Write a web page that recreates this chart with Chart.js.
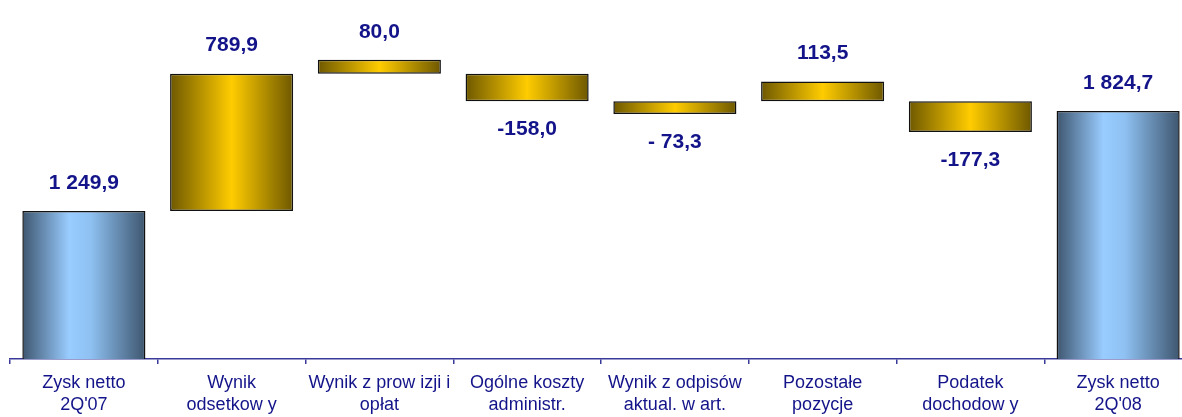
<!DOCTYPE html>
<html>
<head>
<meta charset="utf-8">
<script src="https://cdn.jsdelivr.net/npm/chart.js@4.4.1/dist/chart.umd.min.js"></script>
<style>
  html, body { margin: 0; padding: 0; background: #fff; overflow: hidden; }
  #wrap { width: 1200px; height: 417px; }
</style>
</head>
<body>
<div id="wrap"><canvas id="waterfall" width="1200" height="417"></canvas></div>
<script>
// categories and values (mln zł)
const categories = [
    ['Zysk netto', "2Q'07"],
    ['Wynik', 'odsetkow y'],
    ['Wynik z prow izji i', 'opłat'],
    ['Ogólne koszty', 'administr.'],
    ['Wynik z odpisów', 'aktual. w art.'],
    ['Pozostałe', 'pozycje'],
    ['Podatek', 'dochodow y'],
    ['Zysk netto', "2Q'08"]
];
const values = [1249.9, 789.9, 80.0, -158.0, -73.3, 113.5, -177.3, 1824.7];
// where each bar starts, as drawn in the original (not a strict running total)
const barStarts = [0, 1249.9, 2039.8, 2039.8, 1881.8, 1881.8, 1881.8, 0];
const isTotal = [true, false, false, false, false, false, false, true];
const valueLabels = ['1 249,9', '789,9', '80,0', '-158,0', '- 73,3', '113,5', '-177,3', '1 824,7'];

const axisMin = 400;
const axisMax = 2400;
const navy = '#14148a';
const barShare = 0.833;

const floating = values.map((v, i) => [barStarts[i], barStarts[i] + v]);

function barGradient(context) {
    const chart = context.chart;
    const i = context.dataIndex;
    const fallback = isTotal[i] ? '#99ccff' : '#ffcc00';
    if (!chart.chartArea || !chart.scales.x) return fallback;
    const xs = chart.scales.x;
    const cx = xs.getPixelForValue(i);
    const w = xs.width / categories.length * barShare;
    const g = chart.ctx.createLinearGradient(cx - w / 2, 0, cx + w / 2, 0);
    if (isTotal[i]) {
        g.addColorStop(0, '#3e566f');
        g.addColorStop(0.38, '#99ccff');
        g.addColorStop(0.55, '#8fc2f3');
        g.addColorStop(1, '#3e566f');
    } else {
        g.addColorStop(0, '#6e5800');
        g.addColorStop(0.5, '#ffcc00');
        g.addColorStop(1, '#6e5800');
    }
    return g;
}

// value labels above rising bars, below falling ones
const valueLabelPlugin = {
    id: 'valueLabels',
    afterDatasetsDraw(chart) {
        const ctx = chart.ctx;
        const meta = chart.getDatasetMeta(0);
        ctx.save();
        ctx.font = 'bold 21px "Liberation Sans", Arial, sans-serif';
        ctx.fillStyle = navy;
        ctx.textAlign = 'center';
        ctx.textBaseline = 'middle';
        meta.data.forEach((bar, i) => {
            const top = Math.min(bar.y, bar.base);
            const bottom = Math.max(bar.y, bar.base);
            const y = (isTotal[i] || values[i] >= 0) ? top - 28 : bottom + 28;
            ctx.fillText(valueLabels[i], bar.x, y);
        });
        ctx.restore();
    }
};

new Chart(document.getElementById('waterfall'), {
    type: 'bar',
    data: {
        labels: categories,
        datasets: [{
            data: floating,
            backgroundColor: barGradient,
            borderColor: '#111111',
            borderWidth: 1.5,
            borderSkipped: false,
            barPercentage: barShare,
            categoryPercentage: 1
        }]
    },
    options: {
        responsive: false,
        animation: false,
        devicePixelRatio: 1,
        layout: { padding: { left: 10, right: 8, top: 11, bottom: 0 } },
        plugins: {
            legend: { display: false },
            tooltip: { enabled: false }
        },
        scales: {
            y: {
                display: false,
                min: axisMin,
                max: axisMax
            },
            x: {
                afterFit: (scale) => { scale.height = 58; },
                border: { display: true, color: '#3a3a9a', width: 1.5 },
                grid: {
                    offset: true,
                    drawOnChartArea: false,
                    drawTicks: true,
                    tickLength: 5,
                    color: '#3a3a9a',
                    lineWidth: 1.5
                },
                ticks: {
                    color: navy,
                    padding: 8,
                    maxRotation: 0,
                    autoSkip: false,
                    font: { family: '"Liberation Sans", Arial, sans-serif', size: 18, lineHeight: 1.22 }
                }
            }
        }
    },
    plugins: [valueLabelPlugin]
});
</script>
</body>
</html>
